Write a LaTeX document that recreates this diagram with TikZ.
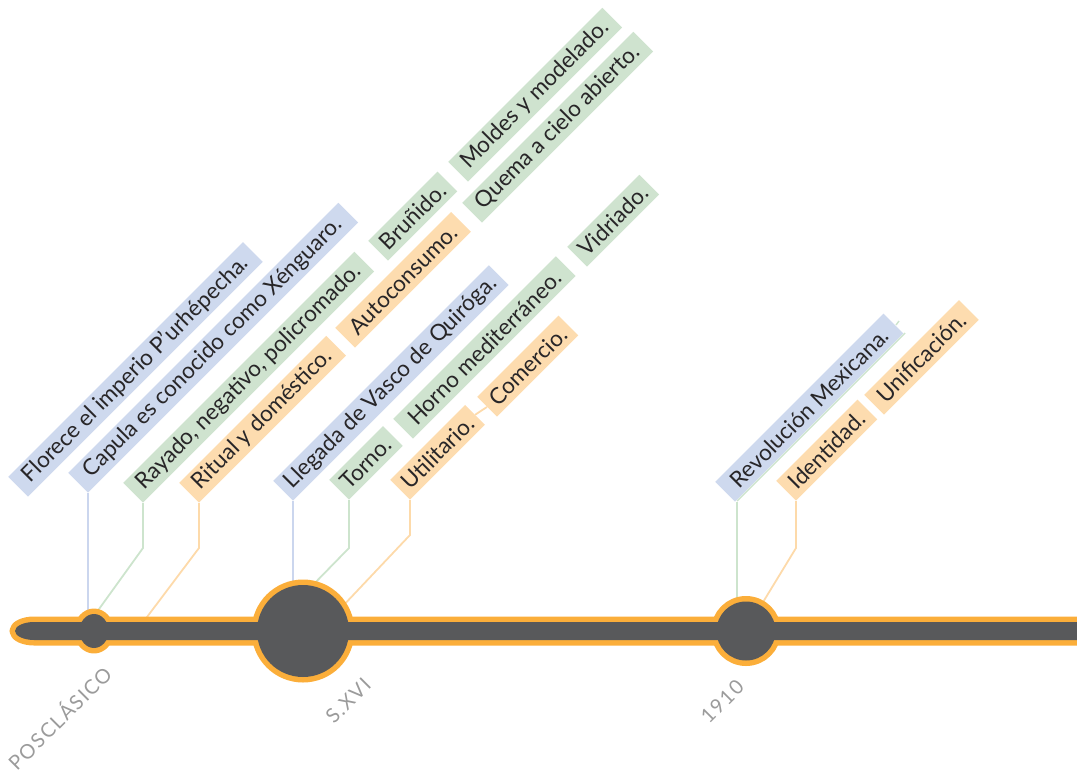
\documentclass[tikz,border=0pt]{standalone}
\usepackage{fontspec}
\newfontfamily\tagfont{Lato}
\newfontfamily\datefont[LetterSpace=8]{Lato}

\definecolor{tagblue}{RGB}{206,217,238}
\definecolor{taggreen}{RGB}{207,227,207}
\definecolor{tagorange}{RGB}{253,220,175}
\definecolor{lineblue}{RGB}{203,214,238}
\definecolor{linegreen}{RGB}{205,228,205}
\definecolor{lineorange}{RGB}{253,218,170}
\definecolor{rim}{RGB}{251,174,58}
\definecolor{core}{RGB}{88,89,91}
\definecolor{txt}{RGB}{40,38,40}
\definecolor{dategray}{RGB}{155,155,155}

\tikzset{
  tag/.style={rotate=45, anchor=south west, minimum height=28pt, inner sep=0pt,
              text=txt, font=\tagfont\fontsize{22.5}{26}\selectfont},
  tagB/.style={tag, fill=tagblue},
  tagG/.style={tag, fill=taggreen},
  tagO/.style={tag, fill=tagorange},
  link/.style={line width=1.8pt},
  linkB/.style={link, draw=lineblue},
  linkG/.style={link, draw=linegreen},
  linkO/.style={link, draw=lineorange},
  rimpart/.style={fill=rim, draw=rim, line width=11pt, line join=round},
  corepart/.style={fill=core},
  datelabel/.style={rotate=45, anchor=base west, inner sep=0pt, text=dategray,
                    font=\datefont\fontsize{20}{22}\selectfont}
}

\begin{document}
\begin{tikzpicture}[x=1pt,y=-1pt]
\useasboundingbox (0,0) rectangle (1077,782);

% event centres on the time axis
\coordinate (posc) at (94,631);
\coordinate (sxvi) at (303,631);
\coordinate (y1910) at (746,631);

% free ends of the connectors, hidden under the axis
\coordinate (capEnd)  at (88,620);
\coordinate (rayEnd)  at (94,616);
\coordinate (ritEnd)  at (144,621);
\coordinate (lleEnd)  at (293,600);
\coordinate (torEnd)  at (308,590);
\coordinate (utiEnd)  at (340,609);
\coordinate (revEnd)  at (737,610);
\coordinate (ideEnd)  at (757,612);

% ---- tags -------------------------------------------------------------
\node[tagB, minimum width=332pt] (florece)  at (28,497)  {Florece el imperio P’urhépecha.};
\node[tagB, minimum width=382pt] (capula)   at (88,493)  {Capula es conocido como Xénguaro.};
\node[tagG, minimum width=327pt] (rayado)   at (143,503) {Rayado, negativo, policromado.};
\node[tagO, minimum width=208pt] (ritual)   at (199,503) {Ritual y doméstico.};
\node[tagO, minimum width=164pt] (autoc)    at (355,348) {Autoconsumo.};
\node[tagG, minimum width=98pt]  (brunido)  at (388,261) {Bruñido.};
\node[tagG, minimum width=218pt] (moldes)   at (468,182) {Moldes y modelado.};
\node[tagG, minimum width=242pt] (quema)    at (482,223) {Quema a cielo abierto.};
\node[tagB, minimum width=305pt] (llegada)  at (293,501) {Llegada de Vasco de Quiróga.};
\node[tagG, minimum width=76pt]  (torno)    at (349,500) {Torno.};
\node[tagG, minimum width=230pt] (horno)    at (413,439) {Horno mediterráneo.};
\node[tagG, minimum width=102pt] (vidriado) at (587,267) {Vidriado.};
\node[tagO, minimum width=106pt] (util)     at (410,500) {Utilitario.};
\node[tagO, minimum width=115pt] (comercio) at (497,417) {Comercio.};

% green rule along the lower edge of the revolution tag
\draw[linkG, line width=1.4pt] (737,501) -- ++(168,-168);
\draw[linkG, line width=1.4pt] (896,325) -- ++(3,-4);
\node[tagB, minimum width=238pt] (revol)    at (735,502) {Revolución Mexicana.};
\node[tagO, minimum width=115pt] (ident)    at (796,501) {Identidad.};
\node[tagO, minimum width=134pt] (unif)     at (884,415) {Unificación.};

% ---- connectors -------------------------------------------------------
\draw[linkB] (capula.south west) -- (capEnd);
\draw[linkG] (rayado.south west) -- ++(0,45) -- (rayEnd);
\draw[linkO] (ritual.south west) -- ++(0,45) -- (ritEnd);
\draw[linkB] (llegada.south west) -- (lleEnd);
\draw[linkG] (torno.south west) -- ++(0,48) -- (torEnd);
\draw[linkO] (util.south west) -- ++(0,35) -- (utiEnd);
\draw[linkG] ([xshift=2pt]revol.south west) -- (revEnd);
\draw[linkO] (ident.south west) -- ++(0,47) -- (ideEnd);
\draw[linkO] (util.east) -- (comercio.west);

% ---- time axis --------------------------------------------------------
\path[rimpart] (1100,622) -- (34,622) .. controls (24,622) and (15,626) .. (15,631)
      .. controls (15,636) and (24,640) .. (34,640) -- (1100,640) -- cycle;
\path[rimpart] (posc) ellipse [x radius=14.5, y radius=17];
\path[rimpart] (sxvi) circle [radius=46];
\path[rimpart] (y1910) circle [radius=29.5];

\path[corepart] (1100,622) -- (34,622) .. controls (24,622) and (15,626) .. (15,631)
      .. controls (15,636) and (24,640) .. (34,640) -- (1100,640) -- cycle;
\path[corepart] (posc) ellipse [x radius=14.5, y radius=17];
\path[corepart] (sxvi) circle [radius=46];
\path[corepart] (y1910) circle [radius=29.5];

% ---- period labels ----------------------------------------------------
\node[datelabel] (lposc) at (17,772) {POSCLÁSICO};
\node[datelabel] (lsxvi) at (334,725) {S.XVI};
\node[datelabel] (l1910) at (709,725) {1910};
\end{tikzpicture}
\end{document}
